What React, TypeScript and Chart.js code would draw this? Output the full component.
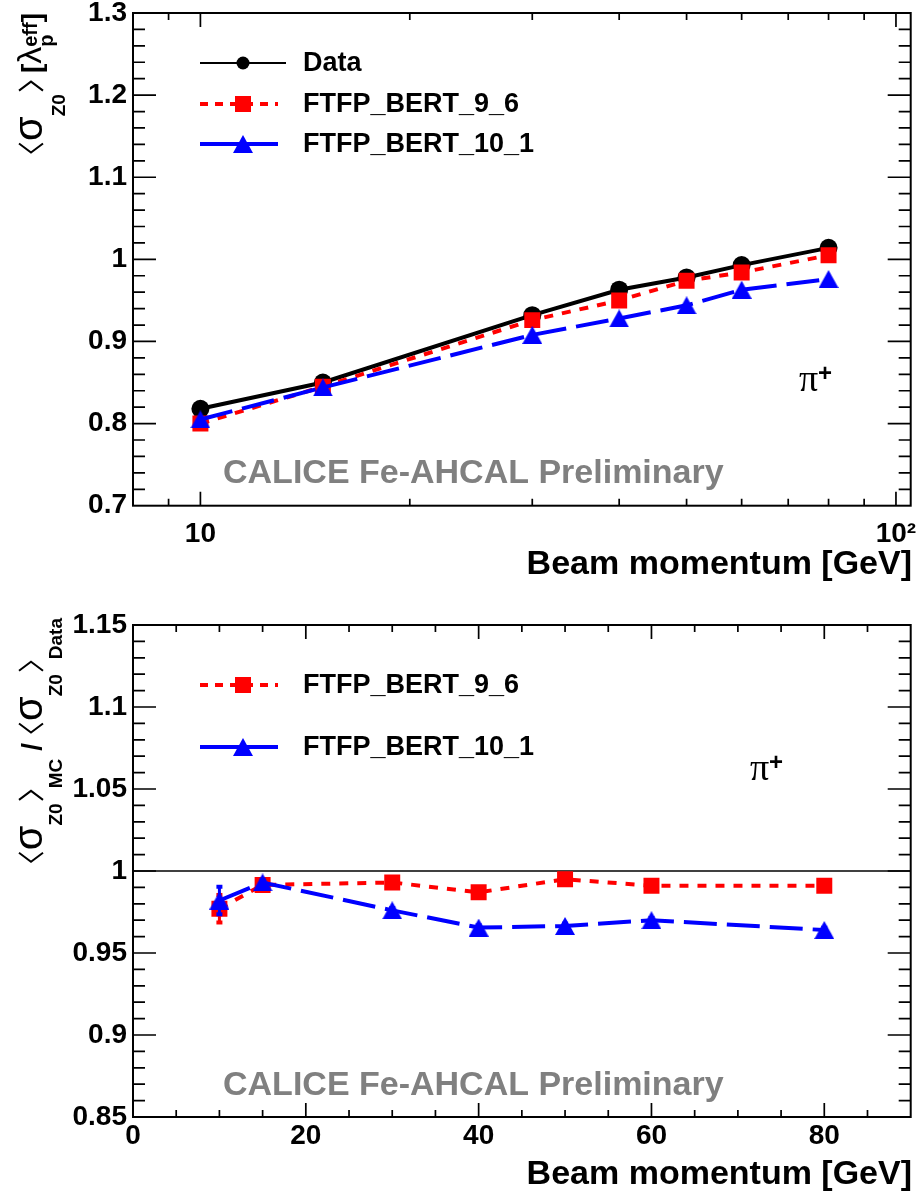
import React, { useEffect, useRef } from 'react';
import { Chart, registerables } from 'chart.js';

Chart.register(...registerables);

// ---------------- data ----------------
const beamMomenta = [10, 15, 30, 40, 50, 60, 80];
const sigmaData = [0.818, 0.85, 0.932, 0.963, 0.978, 0.993, 1.014];
const sigmaFtfp96 = [0.8, 0.845, 0.926, 0.95, 0.974, 0.984, 1.005];
const sigmaFtfp101 = [0.805, 0.844, 0.908, 0.928, 0.944, 0.963, 0.976];

const ratioFtfp96 = [0.977, 0.9915, 0.993, 0.987, 0.995, 0.991, 0.991];
const ratioFtfp96Err = [0.009, 0.002, 0.002, 0.002, 0.002, 0.002, 0.002];
const ratioFtfp101 = [0.982, 0.993, 0.976, 0.9655, 0.9665, 0.97, 0.964];
const ratioFtfp101Err = [0.009, 0.002, 0.002, 0.002, 0.002, 0.002, 0.002];

const legendTop = ['Data', 'FTFP_BERT_9_6', 'FTFP_BERT_10_1'];
const legendBottom = ['FTFP_BERT_9_6', 'FTFP_BERT_10_1'];

const topXTicks = [10, 100];
const topXTickLabels = ['10', '10²'];
const topXMinorTicks = [9, 20, 30, 40, 50, 60, 70, 80, 90];
const topYTicks = [0.7, 0.8, 0.9, 1.0, 1.1, 1.2, 1.3];
const topYTickLabels = ['0.7', '0.8', '0.9', '1', '1.1', '1.2', '1.3'];

const bottomXTicks = [0, 20, 40, 60, 80];
const bottomXTickLabels = ['0', '20', '40', '60', '80'];
const bottomYTicks = [0.85, 0.9, 0.95, 1.0, 1.05, 1.1, 1.15];
const bottomYTickLabels = ['0.85', '0.9', '0.95', '1', '1.05', '1.1', '1.15'];

const xTitle = 'Beam momentum [GeV]';
const watermark = 'CALICE Fe-AHCAL Preliminary';

// ---------------- style ----------------
const SANS = '"Liberation Sans", Arial, Helvetica, sans-serif';
const SERIF = '"Liberation Serif", "Times New Roman", serif';
const RED = '#ff0000';
const BLUE = '#0000ff';

function range(a: number, b: number, step: number): number[] {
  const out: number[] = [];
  const n = Math.round((b - a) / step);
  for (let i = 0; i <= n; i++) out.push(+(a + i * step).toFixed(4));
  return out;
}
const topYMinor = range(0.7, 1.3, 0.02);
const bottomYMinor = range(0.85, 1.15, 0.01);
const bottomXMinor = range(0, 90, 5);

function triangleImage(w: number, h: number, color: string): HTMLCanvasElement {
  const c = document.createElement('canvas');
  c.width = w;
  c.height = h;
  const g = c.getContext('2d')!;
  g.fillStyle = color;
  g.beginPath();
  g.moveTo(w / 2, 0);
  g.lineTo(w, h);
  g.lineTo(0, h);
  g.closePath();
  g.fill();
  return c;
}

type TextSeg = { k: 't'; s: string; f: string; dy: number };
type BrSeg = { k: 'l' | 'r'; up: number; dn: number; w: number; adv: number };
type SpSeg = { k: 'sp'; adv: number };
type StSeg = { k: 'st'; a: TextSeg; b: TextSeg };
type Seg = TextSeg | BrSeg | SpSeg | StSeg;

function segAdvance(ctx: CanvasRenderingContext2D, g: Seg): number {
  if (g.k === 't') {
    ctx.font = g.f;
    return ctx.measureText(g.s).width;
  }
  if (g.k === 'st') {
    ctx.font = g.a.f;
    const w1 = ctx.measureText(g.a.s).width;
    ctx.font = g.b.f;
    const w2 = ctx.measureText(g.b.s).width;
    return Math.max(w1, w2);
  }
  return g.adv;
}

function drawRotatedRich(ctx: CanvasRenderingContext2D, baseX: number, endY: number, segs: Seg[]) {
  const advs = segs.map((g) => segAdvance(ctx, g));
  const total = advs.reduce((a, b) => a + b, 0);
  ctx.save();
  ctx.translate(baseX, endY + total);
  ctx.rotate(-Math.PI / 2);
  ctx.fillStyle = '#000';
  ctx.strokeStyle = '#000';
  ctx.textAlign = 'left';
  ctx.textBaseline = 'alphabetic';
  let u = 0;
  segs.forEach((g, i) => {
    if (g.k === 't') {
      ctx.font = g.f;
      ctx.fillText(g.s, u, g.dy);
    } else if (g.k === 'st') {
      ctx.font = g.a.f;
      ctx.fillText(g.a.s, u, g.a.dy);
      ctx.font = g.b.f;
      ctx.fillText(g.b.s, u, g.b.dy);
    } else if (g.k === 'l' || g.k === 'r') {
      const pad = (g.adv - g.w) / 2;
      const mid = (g.dn - g.up) / 2;
      ctx.lineWidth = 2;
      ctx.beginPath();
      if (g.k === 'l') {
        ctx.moveTo(u + pad + g.w, -g.up);
        ctx.lineTo(u + pad, mid);
        ctx.lineTo(u + pad + g.w, g.dn);
      } else {
        ctx.moveTo(u + pad, -g.up);
        ctx.lineTo(u + pad + g.w, mid);
        ctx.lineTo(u + pad, g.dn);
      }
      ctx.stroke();
    }
    u += advs[i];
  });
  ctx.restore();
}

const MAIN = `bold 28px ${SANS}`;
const SUB = `bold 19px ${SANS}`;
const SUP = `bold 20px ${SANS}`;
const SIG = `40px ${SANS}`;

const topYTitle: Seg[] = [
  { k: 'l', up: 22, dn: 2, w: 9, adv: 14 },
  { k: 't', s: 'σ', f: SIG, dy: 1 },
  { k: 't', s: 'Z0', f: SUB, dy: 24 },
  { k: 'sp', adv: 1 },
  { k: 'r', up: 22, dn: 2, w: 9, adv: 14 },
  { k: 'sp', adv: 6 },
  { k: 't', s: '[', f: MAIN, dy: 0 },
  { k: 't', s: 'λ', f: `34px ${SANS}`, dy: 0 },
  { k: 'st', a: { k: 't', s: 'p', f: SUP, dy: 12 }, b: { k: 't', s: 'eff', f: SUP, dy: -4 } },
  { k: 't', s: ']', f: MAIN, dy: 0 },
];

const bottomYTitle: Seg[] = [
  { k: 'l', up: 22, dn: 2, w: 9, adv: 14 },
  { k: 't', s: 'σ', f: SIG, dy: 1 },
  { k: 't', s: 'Z0', f: SUB, dy: 21 },
  { k: 'sp', adv: 1 },
  { k: 'r', up: 22, dn: 2, w: 9, adv: 14 },
  { k: 't', s: 'MC', f: SUB, dy: 21 },
  { k: 'sp', adv: 8 },
  { k: 't', s: '/', f: MAIN, dy: 0 },
  { k: 'sp', adv: 8 },
  { k: 'l', up: 22, dn: 2, w: 9, adv: 14 },
  { k: 't', s: 'σ', f: SIG, dy: 1 },
  { k: 't', s: 'Z0', f: SUB, dy: 21 },
  { k: 'sp', adv: 1 },
  { k: 'r', up: 22, dn: 2, w: 9, adv: 14 },
  { k: 't', s: 'Data', f: SUB, dy: 21 },
];

type MarkerKind = 'circle' | 'rect' | 'tri';

function drawMarker(ctx: CanvasRenderingContext2D, kind: MarkerKind, x: number, y: number, size: number, color: string) {
  ctx.fillStyle = color;
  ctx.beginPath();
  if (kind === 'circle') {
    ctx.arc(x, y, size / 2, 0, Math.PI * 2);
  } else if (kind === 'rect') {
    ctx.rect(x - size / 2, y - size / 2, size, size);
  } else {
    const h = size * 0.9;
    ctx.moveTo(x, y - h / 2);
    ctx.lineTo(x + size / 2, y + h / 2);
    ctx.lineTo(x - size / 2, y + h / 2);
    ctx.closePath();
  }
  ctx.fill();
}

type LegendEntry = {
  text: string;
  y: number;
  color: string;
  dash: number[];
  lw: number;
  x2: number;
  marker: MarkerKind;
  size: number;
};

function drawLegend(ctx: CanvasRenderingContext2D, entries: LegendEntry[]) {
  entries.forEach((e) => {
    ctx.save();
    ctx.strokeStyle = e.color;
    ctx.lineWidth = e.lw;
    ctx.setLineDash(e.dash);
    ctx.beginPath();
    ctx.moveTo(200, e.y);
    ctx.lineTo(e.x2, e.y);
    ctx.stroke();
    ctx.setLineDash([]);
    drawMarker(ctx, e.marker, 243, e.y, e.size, e.color);
    ctx.fillStyle = '#000';
    ctx.font = `bold 27px ${SANS}`;
    ctx.textAlign = 'left';
    ctx.textBaseline = 'middle';
    ctx.fillText(e.text, 303, e.y + 1);
    ctx.restore();
  });
}

type Deco = {
  xMajor: number[];
  xMinor: number[];
  yMajor: number[];
  yMinor: number[];
  draw: (ctx: CanvasRenderingContext2D, chart: any) => void;
};

function drawFrame(chart: any, d: Deco) {
  const { ctx, chartArea: a, scales } = chart;
  const xs = scales.x;
  const ys = scales.y;
  ctx.save();
  ctx.strokeStyle = '#000';
  ctx.lineWidth = 1.7;
  ctx.setLineDash([]);
  ctx.beginPath();
  const xt = (vals: number[], len: number) => {
    vals.forEach((v) => {
      const p = xs.getPixelForValue(v);
      if (p < a.left + 0.5 || p > a.right - 0.5) return;
      ctx.moveTo(p, a.bottom);
      ctx.lineTo(p, a.bottom - len);
      ctx.moveTo(p, a.top);
      ctx.lineTo(p, a.top + len);
    });
  };
  const yt = (vals: number[], len: number) => {
    vals.forEach((v) => {
      const p = ys.getPixelForValue(v);
      if (p < a.top + 0.5 || p > a.bottom - 0.5) return;
      ctx.moveTo(a.left, p);
      ctx.lineTo(a.left + len, p);
      ctx.moveTo(a.right, p);
      ctx.lineTo(a.right - len, p);
    });
  };
  xt(d.xMajor, 14);
  xt(d.xMinor, 7);
  yt(d.yMajor, 23);
  yt(d.yMinor, 12);
  ctx.stroke();
  ctx.lineWidth = 2;
  ctx.strokeRect(a.left, a.top, a.right - a.left, a.bottom - a.top);
  ctx.restore();
}

function decoPlugin(d: Deco) {
  return {
    id: 'rootDeco',
    afterDraw(chart: any) {
      drawFrame(chart, d);
      const ctx = chart.ctx as CanvasRenderingContext2D;
      ctx.save();
      d.draw(ctx, chart);
      ctx.restore();
    },
  };
}

function fixX(height: number) {
  return (s: any) => {
    s.height = height;
    s.paddingLeft = 0;
    s.paddingRight = 0;
    s.paddingTop = 0;
    s.paddingBottom = 0;
  };
}
function fixY(width: number) {
  return (s: any) => {
    s.width = width;
    s.paddingLeft = 0;
    s.paddingRight = 0;
    s.paddingTop = 0;
    s.paddingBottom = 0;
  };
}

const tickFont = { family: SANS, size: 28, weight: 'bold' as const };

function drawPiPlus(ctx: CanvasRenderingContext2D, x: number, y: number) {
  ctx.fillStyle = '#000';
  ctx.textAlign = 'left';
  ctx.textBaseline = 'alphabetic';
  ctx.font = `38px ${SERIF}`;
  ctx.fillText('π', x, y);
  ctx.font = `bold 24px ${SANS}`;
  ctx.fillText('+', x + 19, y - 10);
}

function drawWatermark(ctx: CanvasRenderingContext2D, y: number) {
  ctx.fillStyle = '#808080';
  ctx.font = `bold 34px ${SANS}`;
  ctx.textAlign = 'left';
  ctx.textBaseline = 'alphabetic';
  ctx.fillText(watermark, 223, y);
}

function drawXTitle(ctx: CanvasRenderingContext2D, y: number) {
  ctx.fillStyle = '#000';
  ctx.font = `bold 34px ${SANS}`;
  ctx.textAlign = 'right';
  ctx.textBaseline = 'alphabetic';
  ctx.fillText(xTitle, 912, y);
}

function makeTop(canvas: HTMLCanvasElement) {
  const tri = triangleImage(20, 18, BLUE);
  const pts = (ys: number[]) => beamMomenta.map((x, i) => ({ x, y: ys[i] }));
  const deco: Deco = {
    xMajor: topXTicks,
    xMinor: topXMinorTicks,
    yMajor: topYTicks,
    yMinor: topYMinor,
    draw: (ctx) => {
      drawXTitle(ctx, 574);
      drawRotatedRich(ctx, 41, 13, topYTitle);
      drawLegend(ctx, [
        { text: legendTop[0], y: 63, color: '#000', dash: [], lw: 2, x2: 286, marker: 'circle', size: 13 },
        { text: legendTop[1], y: 104, color: RED, dash: [8, 7], lw: 4, x2: 278, marker: 'rect', size: 16 },
        { text: legendTop[2], y: 144, color: BLUE, dash: [], lw: 4, x2: 278, marker: 'tri', size: 20 },
      ]);
      drawWatermark(ctx, 483);
      drawPiPlus(ctx, 799, 391);
    },
  };
  return new Chart(canvas, {
    type: 'line',
    data: {
      datasets: [
        {
          label: legendTop[0],
          data: pts(sigmaData),
          borderColor: '#000',
          backgroundColor: '#000',
          borderWidth: 4,
          pointStyle: 'circle',
          pointRadius: 9,
          pointBorderWidth: 0,
          order: 3,
        },
        {
          label: legendTop[1],
          data: pts(sigmaFtfp96),
          borderColor: RED,
          backgroundColor: RED,
          borderWidth: 4,
          borderDash: [9, 9],
          pointStyle: 'rect',
          pointRadius: 11.3,
          pointBorderWidth: 0,
          order: 2,
        },
        {
          label: legendTop[2],
          data: pts(sigmaFtfp101),
          borderColor: BLUE,
          backgroundColor: BLUE,
          borderWidth: 4,
          borderDash: [33, 10],
          pointStyle: tri as any,
          pointRadius: 10,
          pointBorderWidth: 0,
          order: 1,
        },
      ] as any,
    },
    options: {
      responsive: false,
      animation: false,
      devicePixelRatio: 1,
      layout: { padding: { top: 13, right: 9, left: 0, bottom: 0 } },
      plugins: { legend: { display: false }, tooltip: { enabled: false } },
      scales: {
        x: {
          type: 'logarithmic',
          min: 8,
          max: 105,
          grid: { display: false, drawTicks: false },
          border: { display: false },
          ticks: {
            font: tickFont,
            color: '#000',
            padding: 11.5,
            autoSkip: false,
            maxRotation: 0,
            minRotation: 0,
            callback: (_v: any, i: number) => topXTickLabels[i],
          },
          afterBuildTicks: (s: any) => {
            s.ticks = topXTicks.map((v) => ({ value: v }));
          },
          afterFit: fixX(84.3),
        },
        y: {
          type: 'linear',
          min: 0.7,
          max: 1.3,
          grid: { display: false, drawTicks: false },
          border: { display: false },
          ticks: {
            font: tickFont,
            color: '#000',
            padding: 6,
            autoSkip: false,
            callback: (_v: any, i: number) => topYTickLabels[i],
          },
          afterBuildTicks: (s: any) => {
            s.ticks = topYTicks.map((v) => ({ value: v }));
          },
          afterFit: fixY(133),
        },
      },
    } as any,
    plugins: [decoPlugin(deco)],
  });
}

function makeBottom(canvas: HTMLCanvasElement) {
  const tri = triangleImage(20, 18, BLUE);
  const pts = (ys: number[]) => beamMomenta.map((x, i) => ({ x, y: ys[i] }));
  const errs = [ratioFtfp96Err, ratioFtfp101Err];
  const errColors = [RED, BLUE];
  const deco: Deco = {
    xMajor: bottomXTicks,
    xMinor: bottomXMinor,
    yMajor: bottomYTicks,
    yMinor: bottomYMinor,
    draw: (ctx) => {
      drawXTitle(ctx, 594);
      drawRotatedRich(ctx, 41, 28, bottomYTitle);
      drawLegend(ctx, [
        { text: legendBottom[0], y: 95, color: RED, dash: [8, 7], lw: 4, x2: 278, marker: 'rect', size: 16 },
        { text: legendBottom[1], y: 157, color: BLUE, dash: [], lw: 4, x2: 278, marker: 'tri', size: 20 },
      ]);
      drawWatermark(ctx, 505);
      drawPiPlus(ctx, 750, 190);
    },
  };
  const unityLine = {
    id: 'unity',
    beforeDatasetsDraw(chart: any) {
      const { ctx, chartArea: a, scales } = chart;
      const y = scales.y.getPixelForValue(1);
      ctx.save();
      ctx.strokeStyle = '#000';
      ctx.lineWidth = 1.5;
      ctx.beginPath();
      ctx.moveTo(a.left, y);
      ctx.lineTo(a.right, y);
      ctx.stroke();
      ctx.restore();
    },
  };
  const errorBars = {
    id: 'errorBars',
    afterDatasetDraw(chart: any, args: any) {
      const i = args.index;
      const e = errs[i];
      if (!e) return;
      const { ctx, scales } = chart;
      const ds = chart.data.datasets[i];
      ctx.save();
      ctx.strokeStyle = errColors[i];
      ctx.fillStyle = errColors[i];
      ctx.lineWidth = 3;
      ctx.setLineDash([]);
      ds.data.forEach((p: any, j: number) => {
        const x = scales.x.getPixelForValue(p.x);
        const y1 = scales.y.getPixelForValue(p.y + e[j]);
        const y2 = scales.y.getPixelForValue(p.y - e[j]);
        ctx.beginPath();
        ctx.moveTo(x, y1);
        ctx.lineTo(x, y2);
        ctx.stroke();
        ctx.fillRect(x - 3, y1 - 1, 6, 4);
        ctx.fillRect(x - 3, y2 - 3, 6, 4);
      });
      ctx.restore();
    },
  };
  return new Chart(canvas, {
    type: 'line',
    data: {
      datasets: [
        {
          label: legendBottom[0],
          data: pts(ratioFtfp96),
          borderColor: RED,
          backgroundColor: RED,
          borderWidth: 4,
          borderDash: [9, 9],
          pointStyle: 'rect',
          pointRadius: 11.3,
          pointBorderWidth: 0,
          order: 2,
        },
        {
          label: legendBottom[1],
          data: pts(ratioFtfp101),
          borderColor: BLUE,
          backgroundColor: BLUE,
          borderWidth: 4,
          borderDash: [33, 10],
          pointStyle: tri as any,
          pointRadius: 10,
          pointBorderWidth: 0,
          order: 1,
        },
      ] as any,
    },
    options: {
      responsive: false,
      animation: false,
      devicePixelRatio: 1,
      layout: { padding: { top: 35, right: 9, left: 0, bottom: 0 } },
      plugins: { legend: { display: false }, tooltip: { enabled: false } },
      scales: {
        x: {
          type: 'linear',
          min: 0,
          max: 90,
          grid: { display: false, drawTicks: false },
          border: { display: false },
          ticks: {
            font: tickFont,
            color: '#000',
            padding: 2.5,
            autoSkip: false,
            maxRotation: 0,
            minRotation: 0,
            callback: (_v: any, i: number) => bottomXTickLabels[i],
          },
          afterBuildTicks: (s: any) => {
            s.ticks = bottomXTicks.map((v) => ({ value: v }));
          },
          afterFit: fixX(77),
        },
        y: {
          type: 'linear',
          min: 0.85,
          max: 1.15,
          grid: { display: false, drawTicks: false },
          border: { display: false },
          ticks: {
            font: tickFont,
            color: '#000',
            padding: 6,
            autoSkip: false,
            callback: (_v: any, i: number) => bottomYTickLabels[i],
          },
          afterBuildTicks: (s: any) => {
            s.ticks = bottomYTicks.map((v) => ({ value: v }));
          },
          afterFit: fixY(133),
        },
      },
    } as any,
    plugins: [unityLine, errorBars, decoPlugin(deco)],
  });
}

export default function App() {
  const topRef = useRef<HTMLCanvasElement>(null);
  const botRef = useRef<HTMLCanvasElement>(null);
  useEffect(() => {
    const c1 = makeTop(topRef.current!);
    const c2 = makeBottom(botRef.current!);
    return () => {
      c1.destroy();
      c2.destroy();
    };
  }, []);
  return (
    <div style={{ position: 'absolute', left: 0, top: 0, width: 922, height: 1194, background: '#fff' }}>
      <canvas
        ref={topRef}
        width={922}
        height={590}
        style={{ position: 'absolute', left: 0, top: 0, width: 922, height: 590 }}
      />
      <canvas
        ref={botRef}
        width={922}
        height={604}
        style={{ position: 'absolute', left: 0, top: 590, width: 922, height: 604 }}
      />
    </div>
  );
}
